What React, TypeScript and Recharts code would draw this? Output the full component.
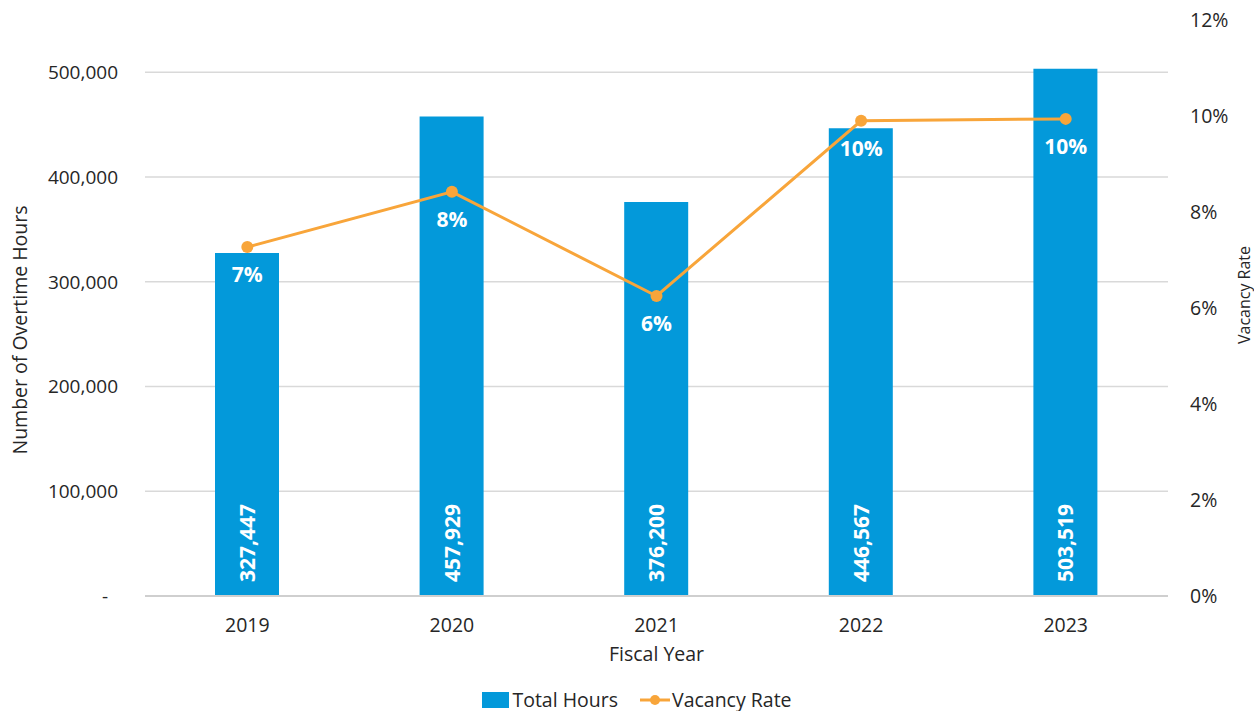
import { Bar, ComposedChart, CartesianGrid, LabelList, Legend, Line, XAxis, YAxis } from "recharts";

const FONT = "'Open Sans', 'Noto Sans', sans-serif";
const BLUE = "#0399DA";
const ORANGE = "#F8A53A";
const TEXT = "#262626";

const years = ["2019", "2020", "2021", "2022", "2023"];
const totalHours = [327447, 457929, 376200, 446567, 503519];
const vacancyRate = [0.0727, 0.0842, 0.0625, 0.099, 0.0994];
const hourTicks = [0, 100000, 200000, 300000, 400000, 500000];
const rateTicks = [0, 0.02, 0.04, 0.06, 0.08, 0.1, 0.12];

const data = years.map((year, i) => ({ year, hours: totalHours[i], rate: vacancyRate[i] }));

const fmtHours = (v: number) => (v === 0 ? "-\u00a0\u00a0" : v.toLocaleString("en-US"));
const fmtPct = (v: number) => `${Math.round(v * 100)}%`;

function HoursLabel(props: any) {
  const { x, y, width, height, value } = props;
  const cx = x + width / 2;
  const by = y + height - 14;
  return (
    <text
      x={cx}
      y={by}
      transform={`rotate(-90, ${cx}, ${by})`}
      textAnchor="start"
      dominantBaseline="central"
      fill="#fff"
      fontSize={21}
      fontWeight={700}
      fontFamily={FONT}
    >
      {Number(value).toLocaleString("en-US")}
    </text>
  );
}

function LegendBox() {
  return (
    <div
      style={{
        height: 55,
        boxSizing: "border-box",
        paddingTop: 33,
        paddingLeft: 20,
        display: "flex",
        justifyContent: "center",
        alignItems: "center",
        fontFamily: FONT,
        fontSize: 19.5,
        color: TEXT,
        lineHeight: "22px",
      }}
    >
      <span style={{ display: "inline-block", width: 27, height: 16, background: BLUE, marginRight: 3 }} />
      <span style={{ marginRight: 22 }}>Total Hours</span>
      <svg width={30} height={16} style={{ marginRight: 2 }}>
        <line x1={0} y1={8} x2={30} y2={8} stroke={ORANGE} strokeWidth={3} />
        <circle cx={15} cy={8} r={5} fill={ORANGE} />
      </svg>
      <span>Vacancy Rate</span>
    </div>
  );
}

export default function App() {
  return (
    <div style={{ position: "absolute", left: 0, top: 0, width: 1254, height: 711, background: "#fff" }}>
      <ComposedChart
        width={1254}
        height={711}
        data={data}
        margin={{ top: 20, right: 0, bottom: 0, left: 0 }}
        style={{ fontFamily: FONT }}
      >
        <CartesianGrid yAxisId="left" vertical={false} syncWithTicks stroke="#d9d9d9" strokeWidth={1.5} />
        <XAxis
          dataKey="year"
          height={60}
          tickSize={0}
          tickMargin={22}
          axisLine={{ stroke: "#cfcfcf", strokeWidth: 2 }}
          tick={{ fontSize: 19.5, fill: TEXT, fontFamily: FONT }}
          label={({ viewBox }: any) => (
            <text
              x={viewBox.x + viewBox.width / 2}
              y={viewBox.y + 65}
              textAnchor="middle"
              fontSize={19.5}
              fill={TEXT}
              fontFamily={FONT}
            >
              Fiscal Year
            </text>
          )}
        />
        <YAxis
          yAxisId="left"
          width={145}
          domain={[0, 550000]}
          ticks={hourTicks}
          tickFormatter={fmtHours}
          tickSize={0}
          tickMargin={27}
          axisLine={false}
          tick={{ fontSize: 19, fill: TEXT, fontFamily: FONT }}
          label={({ viewBox }: any) => {
            const x = viewBox.x + 19;
            const y = viewBox.y + viewBox.height / 2 + 22;
            return (
              <text
                x={x}
                y={y}
                transform={`rotate(-90, ${x}, ${y})`}
                textAnchor="middle"
                dominantBaseline="central"
                fontSize={19.5}
                fill={TEXT}
                fontFamily={FONT}
              >
                Number of Overtime Hours
              </text>
            );
          }}
        />
        <YAxis
          yAxisId="right"
          orientation="right"
          width={86}
          domain={[0, 0.12]}
          ticks={rateTicks}
          tickFormatter={fmtPct}
          tickSize={0}
          tickMargin={22}
          axisLine={false}
          tick={{ fontSize: 19.5, fill: TEXT, fontFamily: FONT }}
          label={({ viewBox }: any) => {
            const x = viewBox.x + viewBox.width - 4;
            const y = viewBox.y + viewBox.height / 2 - 13;
            return (
              <text
                x={x}
                y={y}
                transform={`rotate(-90, ${x}, ${y})`}
                textAnchor="middle"
                fontSize={16}
                fill={TEXT}
                fontFamily={FONT}
              >
                Vacancy Rate
              </text>
            );
          }}
        />
        <Legend verticalAlign="bottom" height={55} content={<LegendBox />} />
        <Bar yAxisId="left" dataKey="hours" name="Total Hours" fill={BLUE} barSize={64} isAnimationActive={false}>
          <LabelList dataKey="hours" content={<HoursLabel />} />
        </Bar>
        <Line
          yAxisId="right"
          dataKey="rate"
          name="Vacancy Rate"
          stroke={ORANGE}
          strokeWidth={3}
          dot={{ r: 6, fill: ORANGE, stroke: ORANGE, strokeWidth: 0 }}
          activeDot={false}
          isAnimationActive={false}
        >
          <LabelList
            dataKey="rate"
            position="bottom"
            offset={20}
            formatter={(v: any) => fmtPct(Number(v))}
            fill="#fff"
            fontSize={21}
            fontWeight={700}
            fontFamily={FONT}
          />
        </Line>
      </ComposedChart>
    </div>
  );
}
